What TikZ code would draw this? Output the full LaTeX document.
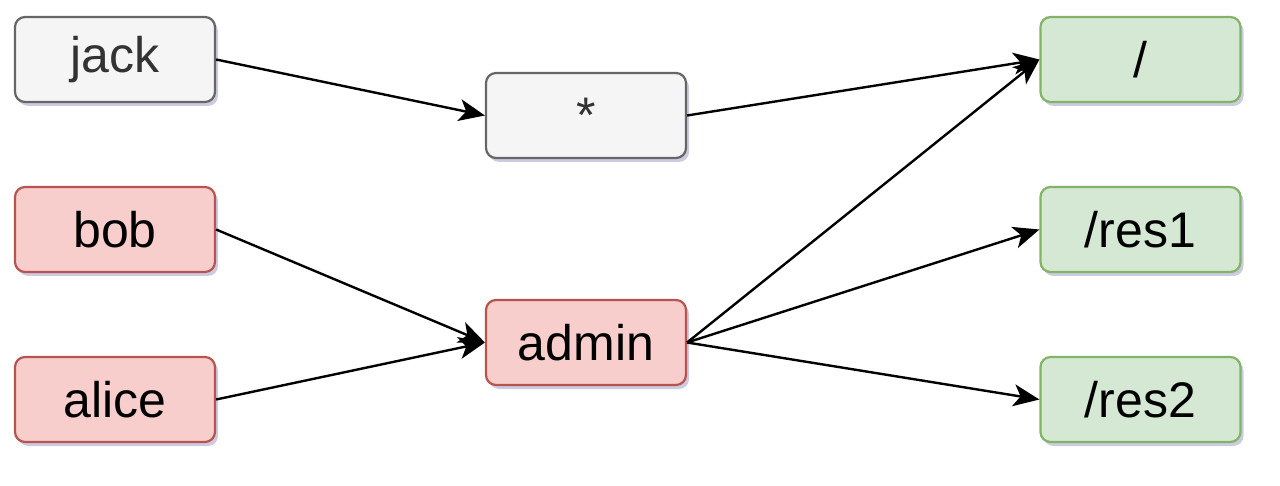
\documentclass[tikz,border=0pt]{standalone}
\usepackage{fontspec}
\setmainfont{Liberation Sans}
\usetikzlibrary{arrows.meta,shadows}
\definecolor{grayfill}{HTML}{F5F5F5}
\definecolor{graydraw}{HTML}{666666}
\definecolor{graytext}{HTML}{333333}
\definecolor{redfill}{HTML}{F8CECC}
\definecolor{reddraw}{HTML}{B85450}
\definecolor{greenfill}{HTML}{D5E8D4}
\definecolor{greendraw}{HTML}{82B366}
\tikzset{
  box/.style={rectangle, rounded corners=10pt, minimum width=200pt, minimum height=85pt,
    inner sep=0pt, line width=2.2pt, font=\fontsize{50}{54}\selectfont,
    drop shadow={opacity=0.2, shadow xshift=3pt, shadow yshift=-4pt, fill=black!60!blue}},
  graybox/.style={box, fill=grayfill, draw=graydraw, text=graytext},
  redbox/.style={box, fill=redfill, draw=reddraw, text=black},
  greenbox/.style={box, fill=greenfill, draw=greendraw, text=black},
  conn/.style={line width=2.4pt, -{Stealth[length=26pt, width=22pt, inset=7pt]}}
}
\begin{document}
\begin{tikzpicture}[x=1pt, y=-1pt]
\useasboundingbox (0,0) rectangle (1280,486);
\node[graybox] (jack) at (115,59.5) {jack};
\node[graybox] (star) at (586,115.5) {*};
\node[greenbox] (root) at (1140.5,59.5) {/};
\node[redbox] (bob) at (115,229.5) {bob};
\node[redbox] (admin) at (586,342.5) {admin};
\node[greenbox] (res1) at (1140.5,229.5) {/res1};
\node[redbox] (alice) at (115,399.5) {alice};
\node[greenbox] (res2) at (1140.5,399.5) {/res2};
\draw[conn] (jack.east) -- (star.west);
\draw[conn] (star.east) -- (root.west);
\draw[conn] (bob.east) -- (admin.west);
\draw[conn] (alice.east) -- (admin.west);
\draw[conn] (admin.east) -- (root.west);
\draw[conn] (admin.east) -- (res1.west);
\draw[conn] (admin.east) -- (res2.west);
\end{tikzpicture}
\end{document}
